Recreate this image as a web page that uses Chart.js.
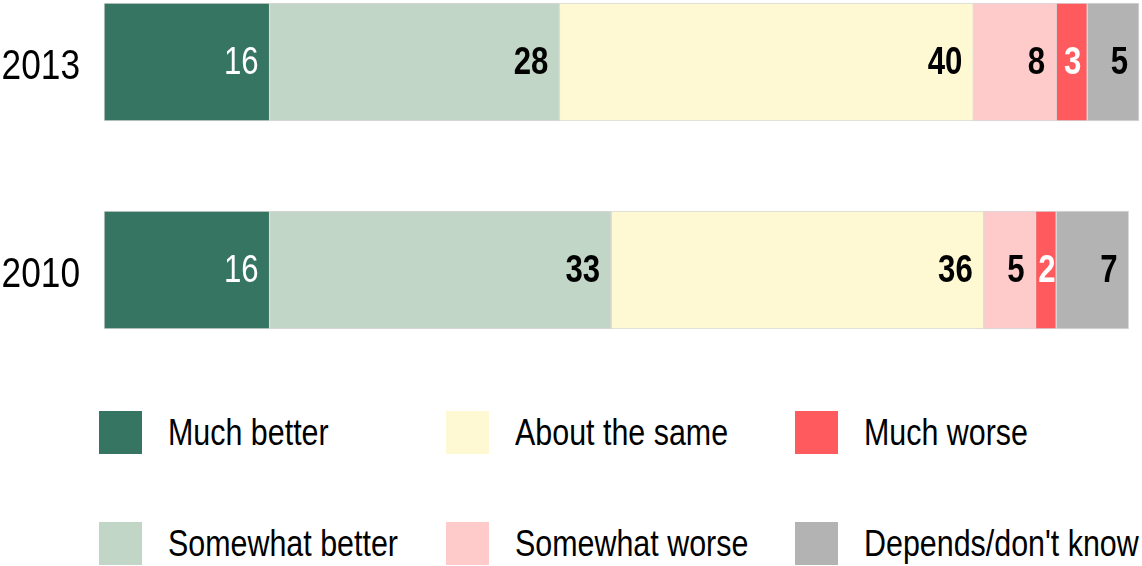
<!DOCTYPE html>
<html>
<head>
<meta charset="utf-8">
<script src="https://cdn.jsdelivr.net/npm/chart.js@4.4.0/dist/chart.umd.min.js"></script>
<style>
  html, body { margin: 0; padding: 0; background: #fff; }
  body { width: 1142px; height: 566px; position: relative; overflow: hidden;
         font-family: "Liberation Sans", Arial, sans-serif; }
  #wrap { position: absolute; left: 0; top: 0; width: 1142px; height: 340px; }
  #legend { position: absolute; left: 99px; top: 411px; display: grid;
            grid-auto-flow: column; grid-template-rows: 43px 43px; row-gap: 68px;
            grid-template-columns: 347px 349px auto; }
  .item { display: flex; align-items: center; }
  .sw { width: 43px; height: 43px; margin-right: 26px; flex: none; }
  /* no narrow face installed, so squeeze Liberation Sans */
  .lbl { font-size: 36px; color: #000; white-space: nowrap; display: inline-block;
         transform: scaleX(0.845); transform-origin: left center; }
</style>
</head>
<body>
<div id="wrap"><canvas id="chart"></canvas></div>
<div id="legend"></div>
<script>
// Data
const years = ['2013', '2010'];
const seriesNames = ['Much better', 'Somewhat better', 'About the same', 'Somewhat worse', 'Much worse', "Depends/don't know"];
const muchBetter = [16, 16];
const somewhatBetter = [28, 33];
const aboutSame = [40, 36];
const somewhatWorse = [8, 5];
const muchWorse = [3, 2];
const dependsDK = [5, 7];

const seriesValues = [muchBetter, somewhatBetter, aboutSame, somewhatWorse, muchWorse, dependsDK];
const colors = ['#357561', '#c2d6c7', '#fef9d3', '#fecaca', '#ff5b5f', '#b3b3b3'];
const labelColors = ['#fff', '#000', '#000', '#000', '#fff', '#000'];
const labelWeights = ['normal', 'bold', 'bold', 'bold', 'bold', 'bold'];

const FONT = '"Liberation Sans", Arial, sans-serif';
const SQUEEZE = 0.82;

// text squeezed horizontally to look like Arial Narrow
function narrowText(ctx, text, x, y, align) {
    ctx.save();
    ctx.translate(x, y);
    ctx.scale(SQUEEZE, 1);
    ctx.textAlign = align;
    ctx.fillText(text, 0, 0);
    ctx.restore();
}

// numbers inside each segment + year labels
const barLabels = {
    id: 'barLabels',
    afterDatasetsDraw(chart) {
        const ctx = chart.ctx;
        ctx.save();
        ctx.textBaseline = 'middle';
        chart.data.datasets.forEach((ds, i) => {
            const meta = chart.getDatasetMeta(i);
            meta.data.forEach((bar, j) => {
                const w = Math.abs(bar.x - bar.base);
                ctx.font = labelWeights[i] + ' 38px ' + FONT;
                ctx.fillStyle = labelColors[i];
                if (w < 40) {
                    narrowText(ctx, ds.data[j], (bar.x + bar.base) / 2 + 1, bar.y + 2, 'center');
                } else {
                    narrowText(ctx, ds.data[j], bar.x - 11, bar.y + 2, 'right');
                }
            });
        });
        // category labels
        const yScale = chart.scales.y;
        ctx.font = '43px ' + FONT;
        ctx.fillStyle = '#000';
        yScale.ticks.forEach((t, k) => {
            narrowText(ctx, yScale.getLabelForValue(t.value), yScale.right - 24, yScale.getPixelForTick(k) + 5, 'right');
        });
        ctx.restore();
    }
};

const datasets = seriesNames.map((name, i) => ({
    label: name,
    data: seriesValues[i],
    backgroundColor: colors[i],
    borderColor: '#d9d9d9',
    borderWidth: 1,
    borderSkipped: false,
    barThickness: 118,
    clip: false
}));

new Chart(document.getElementById('chart'), {
    type: 'bar',
    data: { labels: years, datasets: datasets },
    options: {
        indexAxis: 'y',
        responsive: true,
        maintainAspectRatio: false,
        animation: false,
        layout: { padding: { top: 62, bottom: 70, right: 3, left: 0 } },
        plugins: { legend: { display: false }, tooltip: { enabled: false } },
        scales: {
            x: { stacked: true, min: 0, max: 100, display: false },
            y: {
                stacked: true,
                offset: false,
                grid: { display: false, drawTicks: false },
                border: { display: false },
                ticks: { display: false },
                afterFit(scale) { scale.width = 104; }
            }
        }
    },
    plugins: [barLabels]
});

// legend
const legend = document.getElementById('legend');
seriesNames.forEach((name, i) => {
    const item = document.createElement('div');
    item.className = 'item';
    item.innerHTML = `<span class="sw" style="background:${colors[i]}"></span><span class="lbl">${name}</span>`;
    legend.appendChild(item);
});
</script>
</body>
</html>
